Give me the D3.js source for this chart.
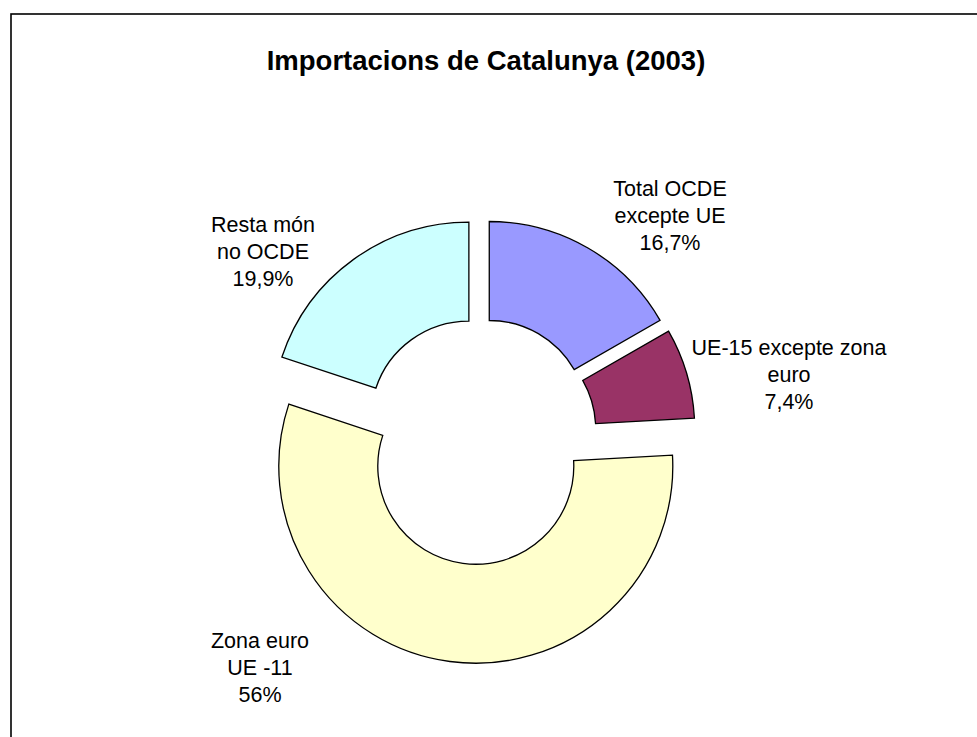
<!DOCTYPE html>
<html>
<head>
<meta charset="utf-8">
<script src="https://cdn.jsdelivr.net/npm/d3@7"></script>
<style>
  html, body { margin: 0; padding: 0; background: #fff; overflow: hidden; }
  #chart { width: 977px; height: 737px; }
  text { font-family: "Liberation Sans", Arial, sans-serif; fill: #000; }
</style>
</head>
<body>
<div id="chart"></div>
<script>
// dades
const categories = ["Total OCDE excepte UE", "UE-15 excepte zona euro", "Zona euro UE-11", "Resta món no OCDE"];
const values = [16.7, 7.4, 56, 19.9];
const valueLabels = ["16,7%", "7,4%", "56%", "19,9%"];
const labelLines = [
  ["Total OCDE", "excepte UE"],
  ["UE-15 excepte zona", "euro"],
  ["Zona euro", "UE -11"],
  ["Resta món", "no OCDE"]
];
const colors = ["#9999FF", "#993366", "#FFFFCC", "#CCFFFF"];

// disposició (no són dades)
const explode = [18.5, 18.5, 32, 19];
const labelAnchor = [[670, 196], [789, 355], [260, 648], [263, 232]];

function drawDonut() {
  const width = 977, height = 737;
  const cx = 480, cy = 434.5;
  const outerR = 197, innerR = 98;

  const svg = d3.select("#chart").append("svg")
    .attr("width", width)
    .attr("height", height);

  // marc
  svg.append("rect")
    .attr("x", 11)
    .attr("y", 14)
    .attr("width", 1000)
    .attr("height", 800)
    .attr("fill", "none")
    .attr("stroke", "#000")
    .attr("stroke-width", 1.6);

  // títol
  svg.append("text")
    .attr("x", 486)
    .attr("y", 70)
    .attr("text-anchor", "middle")
    .attr("font-weight", "bold")
    .attr("font-size", "27.5px")
    .text("Importacions de Catalunya (2003)");

  const pie = d3.pie().sort(null).value(d => d);
  const arc = d3.arc().innerRadius(innerR).outerRadius(outerR);
  const arcs = pie(values);

  const g = svg.append("g").attr("transform", `translate(${cx},${cy})`);

  g.selectAll("path")
    .data(arcs)
    .enter()
    .append("path")
    .attr("d", arc)
    .attr("transform", (d, i) => {
      const mid = (d.startAngle + d.endAngle) / 2;
      return `translate(${Math.sin(mid) * explode[i]},${-Math.cos(mid) * explode[i]})`;
    })
    .attr("fill", (d, i) => colors[i])
    .attr("stroke", "#000")
    .attr("stroke-width", 1.3)
    .attr("stroke-linejoin", "miter");

  // etiquetes
  const lineH = 27;
  arcs.forEach((d, i) => {
    const lines = labelLines[i].concat([valueLabels[i]]);
    const t = svg.append("text")
      .attr("text-anchor", "middle")
      .attr("font-size", "21.5px")
      .attr("aria-label", categories[i]);
    lines.forEach((s, j) => {
      t.append("tspan")
        .attr("x", labelAnchor[i][0])
        .attr("y", labelAnchor[i][1] + j * lineH)
        .text(s);
    });
  });
}

window.addEventListener("DOMContentLoaded", () => {
  drawDonut();
});
</script>
</body>
</html>
